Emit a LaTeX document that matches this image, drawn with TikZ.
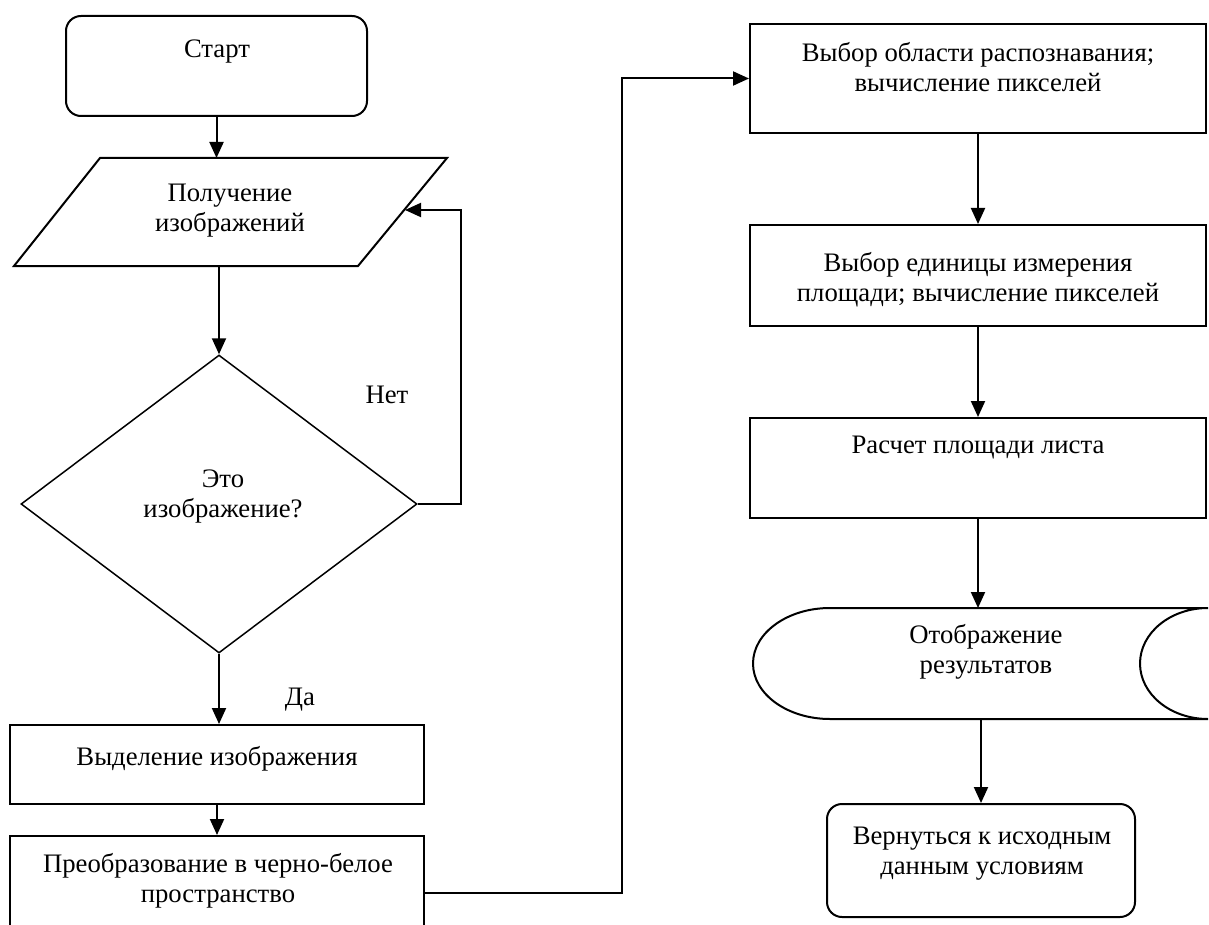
\documentclass[tikz,border=0pt]{standalone}
\usepackage{fontspec}
\setmainfont{Liberation Serif}
\usetikzlibrary{shapes.geometric,arrows.meta}
\begin{document}
\begin{tikzpicture}[x=1pt,y=-1pt,
  blk/.style={draw, line width=2pt, inner sep=0pt, rectangle},
  rblk/.style={blk, rounded corners=15pt},
  txt/.style={inner sep=0pt, align=center, font=\fontsize{26.7}{30}\selectfont},
  arr/.style={line width=2pt, -{Triangle[length=16pt,width=14pt]}}]
\useasboundingbox (0,0) rectangle (1209,925);
\clip (0,0) rectangle (1209,925);

% left column
\node[rblk, minimum width=301pt, minimum height=100pt] (start) at (216.5,66) {};
\draw[line width=2pt, line join=miter] (100,158) -- (447,158) -- (358,266) -- (14,266) -- cycle;
\coordinate (inTop) at (216.5,158);
\coordinate (inBot) at (219,266);
\coordinate (inRight) at (405,210);
\node[draw, diamond, line width=1.5pt, inner sep=0pt, minimum width=396pt, minimum height=298pt] (dec) at (219,504) {};
\node[blk, minimum width=414pt, minimum height=79pt] (r1) at (217,764.5) {};
\node[blk, minimum width=414pt, minimum height=114pt] (r2) at (217,893) {};

% right column
\node[blk, minimum width=456pt, minimum height=109pt] (s1) at (978,78.5) {};
\node[blk, minimum width=456pt, minimum height=101pt] (s2) at (978,275.5) {};
\node[blk, minimum width=456pt, minimum height=100pt] (s3) at (978,468) {};
\draw[line width=2pt] (1208,608) -- (830,608)
  arc[start angle=90, end angle=270, x radius=77pt, y radius=55.5pt]
  -- (1208,719)
  arc[start angle=270, end angle=90, x radius=68pt, y radius=55.5pt] -- cycle;
\coordinate (dispTop) at (978,608);
\coordinate (dispBot) at (981,719);
\node[rblk, minimum width=308pt, minimum height=113pt] (fin) at (981,860.5) {};

% texts
\node[txt, anchor=base] (tStart) at (217,58) {Старт};
\node[txt, anchor=north] (tIn) at (230,180) {\strut Получение\\изображений};
\node[txt, anchor=north] (tDec) at (223,466) {\strut Это\\изображение?};
\node[txt, anchor=base] (tNo) at (387,403) {Нет};
\node[txt, anchor=base] (tYes) at (300,705) {Да};
\node[txt, anchor=base] (tR1) at (217,765) {Выделение изображения};
\node[txt, anchor=north] (tR2) at (218,851) {\strut Преобразование в черно-белое\\пространство};
\node[txt, anchor=north] (tS1) at (978,40) {\strut Выбор области распознавания;\\вычисление пикселей};
\node[txt, anchor=north] (tS2) at (978,250) {\strut Выбор единицы измерения\\площади; вычисление пикселей};
\node[txt, anchor=base] (tS3) at (978,453) {Расчет площади листа};
\node[txt, anchor=north] (tDisp) at (986,622) {\strut Отображение\\результатов};
\node[txt, anchor=north] (tFin) at (982,823) {\strut Вернуться к исходным\\данным условиям};

% connectors
\draw[arr] (start.south) -- (inTop);
\draw[arr] (inBot) -- (dec.north);
\draw[arr] (dec.east) -- ++(43,0) |- (inRight);
\draw[arr] (dec.south) -- (dec.south |- r1.north);
\draw[arr] (r1.south) -- (r2.north);
\draw[arr] (r2.east) -- ++(197,0) |- (s1.west);
\draw[arr] (s1.south) -- (s2.north);
\draw[arr] (s2.south) -- (s3.north);
\draw[arr] (s3.south) -- (dispTop);
\draw[arr] (dispBot) -- (fin.north);
\end{tikzpicture}
\end{document}
